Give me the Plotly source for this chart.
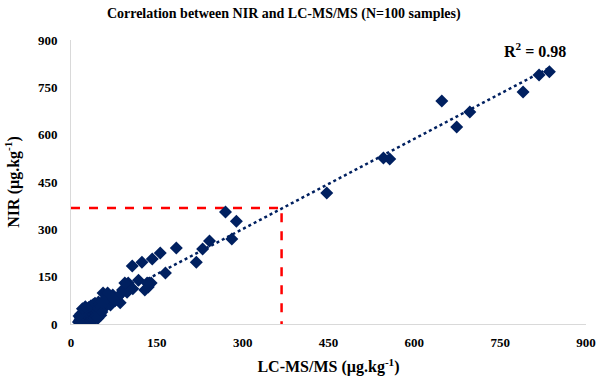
import plotly.graph_objects as go
import numpy as np

# LC-MS/MS (x) and NIR (y) values, µg/kg
lcms = [836, 818, 790, 697, 674, 648, 557, 546, 447,
        270, 289, 281, 242, 230, 219, 184, 156, 142, 124, 107, 165,
        140, 135, 129, 118, 100, 133, 98, 98, 90, 86, 73, 64, 56, 82, 94, 64, 77, 69, 58, 87, 108, 60, 52, 74,
        13, 15, 16, 17, 19, 19, 21, 21, 23, 23, 25, 26, 26, 27, 28, 29, 29, 30, 31, 31, 32, 33, 34, 34, 35,
        36, 36, 37, 38, 39, 39, 40, 40, 41, 41, 42, 42, 43, 44, 45, 46, 47, 48, 48, 49, 50, 51, 52, 53, 54,
        55, 17, 14, 20, 25]
nir = [799, 789, 735, 672, 624, 707, 523, 526, 415,
       355, 326, 269, 263, 238, 196, 241, 225, 206, 196, 184, 162,
       130, 117, 108, 139, 130, 130, 124, 101, 108, 67, 92, 82, 98, 86, 130, 98, 74, 60, 72, 95, 112, 55, 66, 80,
       6, 12, 20, 8, 28, 15, 35, 5, 22, 42, 10, 30, 18, 48, 8, 38, 25, 14, 52, 32, 20, 44, 10, 28, 58,
       36, 16, 48, 24, 62, 40, 12, 30, 54, 20, 46, 66, 35, 25, 58, 42, 18, 50, 70, 32, 62, 45, 28, 56, 38,
       68, 32, 25, 48, 55]

# linear trendline
trend_slope = 0.953
trend_intercept = 15
r_squared = 0.98

# threshold guide lines (µg/kg)
threshold = 368

axis_ticks = [0, 150, 300, 450, 600, 750, 900]

navy = "#002060"
font_family = "Liberation Serif, Times New Roman, serif"

tx = np.array([min(lcms), max(lcms)], dtype=float)
ty = trend_slope * tx + trend_intercept

fig = go.Figure()
fig.add_trace(go.Scatter(x=[0, threshold, threshold], y=[threshold, threshold, 0], mode="lines",
                         line=dict(color="#FF0000", width=2.5, dash="dash"), hoverinfo="skip"))
fig.add_trace(go.Scatter(x=tx, y=ty, mode="lines",
                         line=dict(color=navy, width=2.5, dash="dot"), hoverinfo="skip"))
fig.add_trace(go.Scatter(x=lcms, y=nir, mode="markers",
                         marker=dict(symbol="diamond", size=10, color=navy)))

fig.add_annotation(x=811, y=868, xref="x", yref="y", text=f"R<sup>2</sup> = {r_squared:.2f}", showarrow=False,
                   font=dict(family=font_family, size=16, color="#000000", weight="bold"))

tick_font = dict(family=font_family, size=13, color="#000000", weight="bold")
title_font = dict(family=font_family, size=16, color="#000000", weight="bold")

axis_common = dict(range=[0, 900], tickvals=axis_ticks, showgrid=False, zeroline=False,
                   showline=True, linecolor="#D9D9D9", linewidth=1, ticks="",
                   tickfont=tick_font, fixedrange=True, automargin=False)

fig.update_layout(
    width=600, height=383,
    margin=dict(l=71, r=14, t=40, b=59),
    paper_bgcolor="white", plot_bgcolor="white",
    showlegend=False,
    title=dict(text="Correlation between NIR and LC-MS/MS (N=100 samples)",
               x=0.473, xanchor="center", y=0.966, yanchor="middle",
               font=dict(family=font_family, size=14, color="#000000", weight="bold")),
    xaxis=dict(axis_common, title=dict(text="LC-MS/MS (µg.kg<sup>-1</sup>)", standoff=12, font=title_font)),
    yaxis=dict(axis_common, title=dict(text="NIR (µg.kg<sup>-1</sup>)", standoff=14, font=title_font)),
)
fig.update_xaxes(ticklabelstandoff=6)
fig.update_yaxes(ticklabelstandoff=10)

# remove the default page margin so the 600x383 figure fills the window exactly
fig.write_html("out.html",
               config={"displayModeBar": False},
               post_script="document.body.style.margin='0';document.body.style.overflow='hidden';")
